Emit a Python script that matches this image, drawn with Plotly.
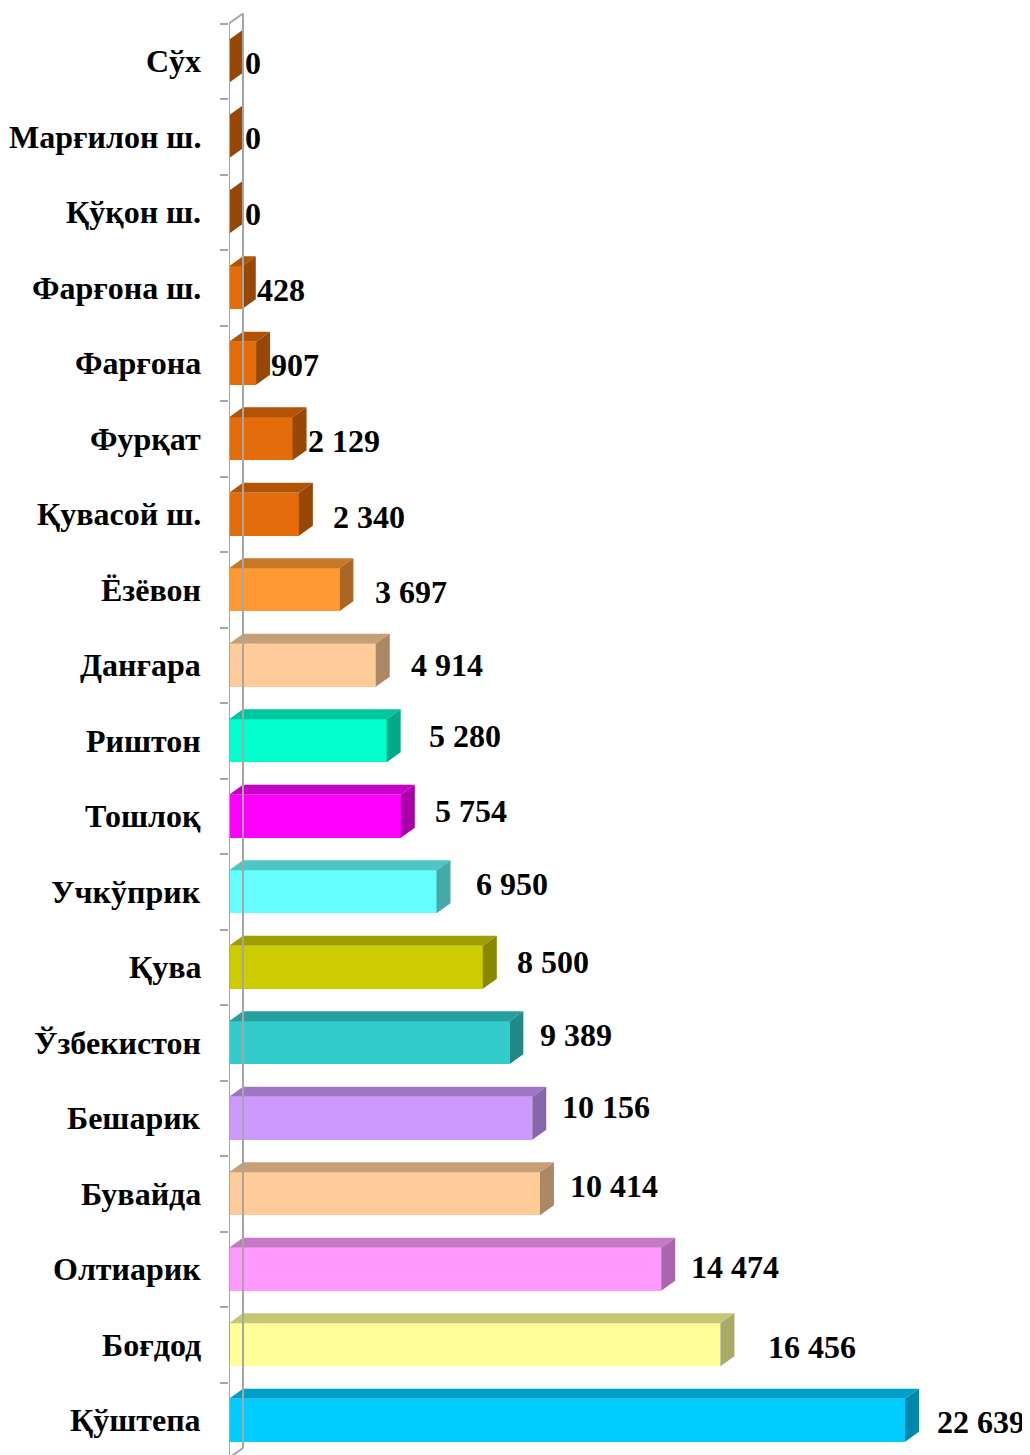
import plotly.graph_objects as go

# ---------------- data ----------------
categories = ["Сўх", "Марғилон ш.", "Қўқон ш.", "Фарғона ш.", "Фарғона", "Фурқат",
              "Қувасой ш.", "Ёзёвон", "Данғара", "Риштон", "Тошлоқ", "Учкўприк",
              "Қува", "Ўзбекистон", "Бешарик", "Бувайда", "Олтиарик", "Боғдод", "Қўштепа"]
values = [0, 0, 0, 428, 907, 2129, 2340, 3697, 4914, 5280, 5754, 6950,
          8500, 9389, 10156, 10414, 14474, 16456, 22639]
value_labels = ["0", "0", "0", "428", "907", "2 129", "2 340", "3 697", "4 914", "5 280",
                "5 754", "6 950", "8 500", "9 389", "10 156", "10 414", "14 474", "16 456", "22 639"]

# ---------------- styles ----------------
bar_colors = ["#E46C0A", "#E46C0A", "#E46C0A", "#E46C0A", "#E46C0A", "#E46C0A", "#E46C0A",
              "#FF9933", "#FFCC99", "#00FFCC", "#FF00FF", "#66FFFF", "#CCCC00", "#33CCCC",
              "#CC99FF", "#FFCC99", "#FF99FF", "#FFFF99", "#00CCFF"]
# label nudges (pixels) relative to the end of each bar's side face
label_gap = [0, 0, 0, -1, -1, -1, 18, 20, 19, 26, 18, 23, 18, 15, 14, 14, 14, 32, 16]
label_dy = [-2, -1, -2, -2, -2, -2, -3, -2, 0, 5, 5, 8, 5, 8, 11, 8, 2, -2, -2]

# the page puts the figure 8 px from the top-left corner of the window
PAGE_OFFSET = 8
W, H = 1030 - PAGE_OFFSET, 1455 - PAGE_OFFSET
L_MARGIN = 229 - PAGE_OFFSET
PX_PER_UNIT = 676 / 22639.0      # horizontal scale
PX_PER_CAT = 75.5                # vertical spacing per category
TOP_BOUNDARY_PX = 23.5 - PAGE_OFFSET   # pixel y of first category boundary
BAR_H = 43 / PX_PER_CAT          # front face height (category units)
DEPTH_X = 14 / PX_PER_UNIT       # 3D depth in x data units
DEPTH_Y = 10 / PX_PER_CAT        # 3D depth in category units
WALL = "#A6A6A6"
FONT = "Liberation Serif"
FSIZE = 32


def scale(hex_color, f):
    h = hex_color.lstrip("#")
    r, g, b = (int(h[i:i + 2], 16) for i in (0, 2, 4))
    return "rgb({},{},{})".format(int(r * f), int(g * f), int(b * f))


n = len(categories)
ys = list(range(n))

fig = go.Figure()

# front faces
fig.add_trace(go.Bar(
    x=values, y=ys, orientation="h", width=BAR_H,
    marker=dict(color=bar_colors, line=dict(width=0)),
    hoverinfo="skip", showlegend=False,
))

# top and side faces
for i, (v, c) in enumerate(zip(values, bar_colors)):
    top = i - BAR_H / 2
    bot = i + BAR_H / 2
    if v > 0:
        fig.add_trace(go.Scatter(
            x=[0, v, v + DEPTH_X, DEPTH_X, 0],
            y=[top, top, top - DEPTH_Y, top - DEPTH_Y, top],
            mode="lines", fill="toself", fillcolor=scale(c, 0.78),
            line=dict(width=0), hoverinfo="skip", showlegend=False))
    fig.add_trace(go.Scatter(
        x=[v, v + DEPTH_X, v + DEPTH_X, v, v],
        y=[top, top - DEPTH_Y, bot - DEPTH_Y, bot, top],
        mode="lines", fill="toself", fillcolor=scale(c, 0.67),
        line=dict(width=0), hoverinfo="skip", showlegend=False))

# walls
y_first = -0.5
y_last = n - 0.5
shapes = [
    dict(type="line", xref="x", yref="y", x0=0, x1=0, y0=y_first, y1=y_last,
         line=dict(color=WALL, width=2)),
    dict(type="line", xref="x", yref="y", x0=DEPTH_X, x1=DEPTH_X,
         y0=y_first - DEPTH_Y, y1=y_last - DEPTH_Y, line=dict(color=WALL, width=2)),
    dict(type="line", xref="x", yref="y", x0=0, x1=DEPTH_X,
         y0=y_first, y1=y_first - DEPTH_Y, line=dict(color=WALL, width=2)),
    dict(type="line", xref="x", yref="y", x0=0, x1=DEPTH_X,
         y0=y_last, y1=y_last - DEPTH_Y, line=dict(color=WALL, width=2)),
]

annotations = []
for i, (cat, v, lab) in enumerate(zip(categories, values, value_labels)):
    annotations.append(dict(
        x=0, y=i, xref="x", yref="y", text=cat, showarrow=False,
        xanchor="right", yanchor="middle", xshift=-26,
        font=dict(family=FONT, size=FSIZE, color="black", weight="bold")))
    annotations.append(dict(
        x=v, y=i, xref="x", yref="y", text=lab, showarrow=False,
        xanchor="left", yanchor="middle", xshift=14 + label_gap[i], yshift=label_dy[i],
        font=dict(family=FONT, size=FSIZE, color="black", weight="bold")))

plot_w = W - L_MARGIN
x_max = plot_w / PX_PER_UNIT
y_top = -0.5 - TOP_BOUNDARY_PX / PX_PER_CAT
y_bottom = -0.5 + (H - TOP_BOUNDARY_PX) / PX_PER_CAT

fig.update_layout(
    width=W, height=H,
    margin=dict(l=L_MARGIN, r=0, t=0, b=0),
    paper_bgcolor="white", plot_bgcolor="white",
    bargap=0,
    shapes=shapes, annotations=annotations,
    xaxis=dict(range=[0, x_max], visible=False, fixedrange=True),
    yaxis=dict(range=[y_bottom, y_top], showgrid=False, zeroline=False, showline=False,
               tickmode="array", tickvals=[k - 0.5 for k in range(n + 1)],
               ticktext=["" for _ in range(n + 1)],
               ticks="outside", ticklen=8, tickwidth=2, tickcolor=WALL,
               fixedrange=True),
)

fig.write_html("out.html")
